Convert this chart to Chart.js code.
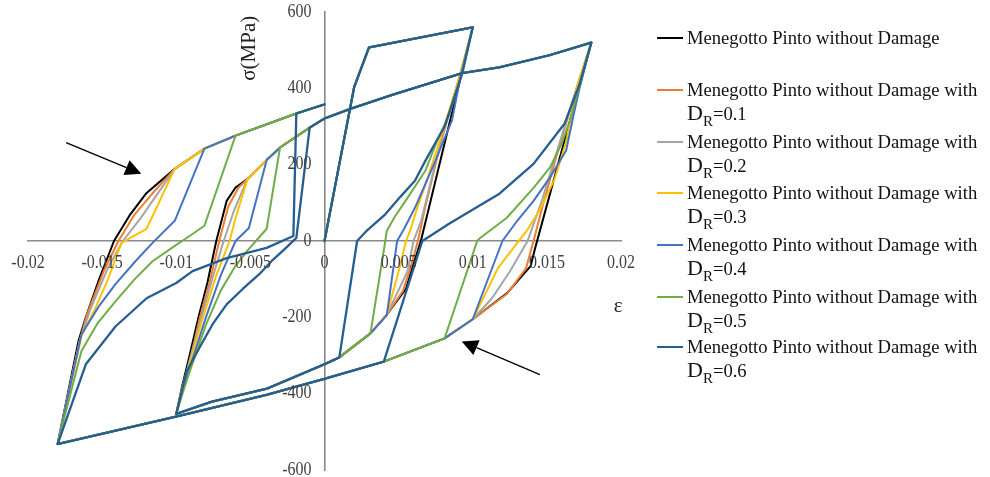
<!DOCTYPE html>
<html><head><meta charset="utf-8">
<script src="https://cdn.jsdelivr.net/npm/chart.js@4.4.0/dist/chart.umd.min.js"></script>
<style>
html,body{margin:0;padding:0;background:#fff;}
#wrap{position:relative;width:990px;height:477px;overflow:hidden;background:#fff;}
canvas{position:absolute;left:0;top:0;}
.lg{position:absolute;font-family:"Liberation Serif","Times New Roman",serif;font-size:18.6px;color:#111;line-height:23px;white-space:nowrap;}
.sw{position:absolute;height:2px;width:26px;}
.dr{font-size:22px;}
.sub{font-size:15px;position:relative;top:6px;}
</style></head><body>
<div id="wrap"><canvas id="c" width="990" height="477"></canvas><div id="legend"></div></div>
<script>
// ---- data: [strain, stress (MPa)] ----
const xTickValues = [-0.02,-0.015,-0.01,-0.005,0,0.005,0.01,0.015,0.02];
const xTickLabels = ['-0.02','-0.015','-0.01','-0.005','0','0.005','0.01','0.015','0.02'];
const yTickValues = [-600,-400,-200,0,200,400,600];
const yTickLabels = ['-600','-400','-200','0','200','400','600'];

const seriesNames = ['Menegotto Pinto without Damage',
  'Menegotto Pinto without Damage with','Menegotto Pinto without Damage with',
  'Menegotto Pinto without Damage with','Menegotto Pinto without Damage with',
  'Menegotto Pinto without Damage with','Menegotto Pinto without Damage with'];
const drValues = [null,'0.1','0.2','0.3','0.4','0.5','0.6'];
const seriesColors = ['#000000','#ED7D31','#A5A5A5','#FFC000','#4472C4','#70AD47','#255E91'];

const mpNoDamage = [[0,0],[0.002,403],[0.003,507],[0.01,560],
 [0.0065,0],[0.006,-60],[0.0055,-125],[0.0042,-193],[0.0031,-242],[0.001,-305],[0,-323],[-0.0039,-387],[-0.0076,-421],[-0.01,-453],
 [-0.0096,-380],[-0.0091,-300],[-0.0085,-200],[-0.0079,-110],[-0.0073,0],[-0.0066,105],[-0.006,140],[-0.0052,162],[-0.0039,212],[-0.003,245],[-0.001,297],[0,321],[0.0018,347],[0.0045,382],[0.0093,440],[0.0118,455],[0.0152,487],[0.018,520],
 [0.0142,-20],[0.0139,-66],[0.0123,-137],[0.01,-205],[0.0081,-255],[0.004,-316],[0,-361],[-0.0039,-403],[-0.01,-460],[-0.018,-532],
 [-0.0166,-263],[-0.0161,-200],[-0.0152,-100],[-0.0142,0],[-0.0131,70],[-0.012,126],[-0.0101,189],[-0.0081,242],[-0.006,276],[-0.0019,334],[0,358]];

const mpDR01 = [[0,0],[0.002,403],[0.003,507],[0.01,560],
 [0.0092,445],[0.0078,250],[0.0068,90],[0.0063,0],[0.0058,-70],[0.0053,-130],[0.0042,-193],[0.0031,-242],[0.001,-305],[0,-323],[-0.0039,-387],[-0.0076,-421],[-0.01,-453],
 [-0.0096,-385],[-0.009,-300],[-0.0084,-200],[-0.0077,-100],[-0.0071,0],[-0.0065,90],[-0.0058,140],[-0.0052,162],[-0.0039,212],[-0.003,245],[-0.001,297],[0,321],[0.0018,347],[0.0045,382],[0.0093,440],[0.0118,455],[0.0152,487],[0.018,520],
 [0.017,400],[0.0157,230],[0.0147,90],[0.0141,0],[0.0136,-71],[0.0123,-139],[0.01,-205],[0.0081,-255],[0.004,-316],[0,-361],[-0.0039,-403],[-0.01,-460],[-0.018,-532],
 [-0.0165,-260],[-0.016,-190],[-0.0149,-80],[-0.0139,0],[-0.0128,70],[-0.0116,125],[-0.0101,189],[-0.0081,242],[-0.006,276],[-0.0019,334],[0,358]];

const mpDR02 = [[0,0],[0.002,403],[0.003,507],[0.01,560],
 [0.0092,440],[0.0081,300],[0.0072,160],[0.0065,50],[0.006,0],[0.0056,-80],[0.0042,-193],[0.0031,-242],[0.001,-305],[0,-323],[-0.0039,-387],[-0.0076,-421],[-0.01,-453],
 [-0.0096,-390],[-0.009,-300],[-0.0083,-200],[-0.0075,-90],[-0.0068,0],[-0.0061,80],[-0.0052,162],[-0.0039,212],[-0.003,245],[-0.001,297],[0,321],[0.0018,347],[0.0045,382],[0.0093,440],[0.0118,455],[0.0152,487],[0.018,520],
 [0.017,400],[0.0158,250],[0.0147,110],[0.0137,0],[0.0125,-80],[0.0113,-150],[0.01,-205],[0.0081,-255],[0.004,-316],[0,-361],[-0.0039,-403],[-0.01,-460],[-0.018,-532],
 [-0.0165,-260],[-0.0158,-180],[-0.0146,-70],[-0.0136,0],[-0.0124,60],[-0.0101,189],[-0.0081,242],[-0.006,276],[-0.0019,334],[0,358]];

const mpDR03 = [[0,0],[0.002,403],[0.003,507],[0.01,560],
 [0.0092,440],[0.008,290],[0.007,170],[0.0062,80],[0.0058,30],[0.0055,0],[0.005,-80],[0.0042,-193],[0.0031,-242],[0.001,-305],[0,-323],[-0.0039,-387],[-0.0076,-421],[-0.01,-453],
 [-0.0096,-390],[-0.009,-310],[-0.0082,-200],[-0.0073,-90],[-0.0064,0],[-0.006,60],[-0.0052,162],[-0.0039,212],[-0.003,245],[-0.001,297],[0,321],[0.0018,347],[0.0045,382],[0.0093,440],[0.0118,455],[0.0152,487],[0.018,520],
 [0.017,400],[0.0163,260],[0.0155,160],[0.0145,80],[0.0137,30],[0.013,-5],[0.0117,-71],[0.01,-205],[0.0081,-255],[0.004,-316],[0,-361],[-0.0039,-403],[-0.01,-460],[-0.018,-532],
 [-0.0164,-250],[-0.0155,-180],[-0.0146,-100],[-0.0137,-5],[-0.012,32],[-0.0101,189],[-0.0081,242],[-0.006,276],[-0.0019,334],[0,358]];

const mpDR04 = [[0,0],[0.002,403],[0.003,507],[0.01,560],
 [0.0092,435],[0.0086,316],[0.0074,203],[0.0061,87],[0.0054,34],[0.0049,0],[0.0042,-195],[0.0031,-242],[0.001,-305],[0,-323],[-0.0039,-387],[-0.0076,-421],[-0.01,-453],
 [-0.0096,-395],[-0.0089,-310],[-0.008,-200],[-0.007,-90],[-0.006,0],[-0.0051,34],[-0.0039,212],[-0.003,245],[-0.001,297],[0,321],[0.0018,347],[0.0045,382],[0.0093,440],[0.0118,455],[0.0152,487],[0.018,520],
 [0.0172,400],[0.0168,330],[0.0163,237],[0.0152,166],[0.0141,105],[0.013,53],[0.012,0],[0.01,-205],[0.0081,-255],[0.004,-316],[0,-361],[-0.0039,-403],[-0.01,-460],[-0.018,-532],
 [-0.0164,-245],[-0.0152,-170],[-0.0141,-113],[-0.0128,-55],[-0.0116,-5],[-0.0101,53],[-0.0081,242],[-0.006,276],[-0.0019,334],[0,358]];

const mpDR05 = [[0,0],[0.002,403],[0.003,507],[0.01,560],
 [0.0092,430],[0.0084,330],[0.0076,263],[0.0068,184],[0.0056,113],[0.0047,61],[0.0042,26],[0.0041,0],[0.0031,-242],[0.001,-305],[0,-323],[-0.0039,-387],[-0.0076,-421],[-0.01,-453],
 [-0.0095,-390],[-0.0089,-320],[-0.008,-220],[-0.007,-130],[-0.006,-65],[-0.0052,-25],[-0.0039,32],[-0.003,245],[-0.001,297],[0,321],[0.0018,347],[0.0045,382],[0.0093,440],[0.0118,455],[0.0152,487],[0.018,520],
 [0.0172,410],[0.0166,320],[0.016,255],[0.0152,192],[0.0141,139],[0.0123,61],[0.0105,8],[0.0103,0],[0.0081,-255],[0.004,-316],[0,-361],[-0.0039,-403],[-0.01,-460],[-0.018,-532],
 [-0.0164,-289],[-0.0153,-215],[-0.0141,-158],[-0.0128,-100],[-0.0116,-53],[-0.01,-10],[-0.0091,13],[-0.0081,40],[-0.006,276],[-0.0019,334],[0,358]];

const mpDR06 = [[0,0],[0.002,403],[0.003,507],[0.01,560],
 [0.0093,440],[0.0081,300],[0.0068,210],[0.0061,158],[0.0051,115],[0.0041,70],[0.0028,25],[0.0022,0],[0.001,-305],[0,-323],[-0.0039,-387],[-0.0076,-421],[-0.01,-453],
 [-0.0093,-342],[-0.0084,-277],[-0.0075,-215],[-0.0066,-166],[-0.0055,-125],[-0.0044,-87],[-0.0035,-50],[-0.0026,-18],[-0.0019,8],[-0.001,297],[0,321],[0.0018,347],[0.0045,382],[0.0093,440],[0.0118,455],[0.0152,487],[0.018,520],
 [0.0172,410],[0.0162,308],[0.0141,202],[0.0118,124],[0.0084,45],[0.0066,0],[0.004,-316],[0,-361],[-0.0039,-403],[-0.01,-460],[-0.018,-532],
 [-0.0161,-323],[-0.0141,-224],[-0.012,-150],[-0.01,-110],[-0.0089,-79],[-0.0066,-45],[-0.0039,-18],[-0.0021,13],[-0.0019,334],[0,358]];

const seriesData = [mpNoDamage, mpDR01, mpDR02, mpDR03, mpDR04, mpDR05, mpDR06];

// ---- chart ----
const serif = '"Liberation Serif","Times New Roman",serif';
const datasets = seriesData.map((pts, i) => ({
  label: seriesNames[i] + (drValues[i] ? ' DR=' + drValues[i] : ''),
  data: pts.map(p => ({x: p[0], y: p[1]})),
  borderColor: seriesColors[i],
  backgroundColor: seriesColors[i],
  borderWidth: i === 6 ? 2.3 : 2,
  pointRadius: 0,
  showLine: true,
  fill: false,
  tension: 0,
  borderJoinStyle: 'round',
  borderCapStyle: 'round',
  order: 6 - i
}));

const notes = {
  id: 'notes',
  afterDraw(chart) {
    const ctx = chart.ctx, xs = chart.scales.x, ys = chart.scales.y;
    ctx.save();
    // tick labels (placed through the scales)
    const tick = (txt, x, y, align) => {
      ctx.save();
      ctx.translate(x, y);
      ctx.scale(1, 1.12);
      ctx.textAlign = align; ctx.textBaseline = 'middle';
      ctx.fillText(txt, 0, 0);
      ctx.restore();
    };
    ctx.fillStyle = '#404040';
    ctx.font = '16px ' + serif;
    xTickValues.forEach((v, i) => tick(xTickLabels[i], xs.getPixelForValue(v), ys.getPixelForValue(0) + 22, 'center'));
    yTickValues.forEach((v, i) => tick(yTickLabels[i], xs.getPixelForValue(0) - 13, ys.getPixelForValue(v), 'right'));
    // axis titles
    ctx.fillStyle = '#222';
    ctx.font = '21px ' + serif;
    ctx.textAlign = 'center'; ctx.textBaseline = 'middle';
    ctx.save();
    ctx.translate(xs.getPixelForValue(-0.00507), ys.getPixelForValue(505));
    ctx.rotate(-Math.PI / 2);
    ctx.fillText('σ(MPa)', 0, 0);
    ctx.restore();
    ctx.fillText('ε', xs.getPixelForValue(0.0198), ys.getPixelForValue(-172));
    // arrows
    const arrow = (x1, y1, x2, y2) => {
      const a = Math.atan2(y2 - y1, x2 - x1), L = 16, W = 8;
      const bx = x2 - L * Math.cos(a), by = y2 - L * Math.sin(a);
      ctx.strokeStyle = '#000'; ctx.lineWidth = 1.3;
      ctx.beginPath(); ctx.moveTo(x1, y1); ctx.lineTo(bx, by); ctx.stroke();
      ctx.fillStyle = '#000';
      ctx.beginPath(); ctx.moveTo(x2, y2);
      ctx.lineTo(bx + W * Math.sin(a), by - W * Math.cos(a));
      ctx.lineTo(bx - W * Math.sin(a), by + W * Math.cos(a));
      ctx.closePath(); ctx.fill();
    };
    arrow(xs.getPixelForValue(-0.01743), ys.getPixelForValue(258), xs.getPixelForValue(-0.01236), ys.getPixelForValue(176));
    arrow(xs.getPixelForValue(0.01453), ys.getPixelForValue(-350), xs.getPixelForValue(0.00926), ys.getPixelForValue(-263));
    ctx.restore();
  }
};

new Chart(document.getElementById('c'), {
  type: 'scatter',
  data: { datasets },
  options: {
    responsive: false,
    animation: false,
    layout: { padding: { left: 28, right: 369, top: 12, bottom: 7 } },
    plugins: { legend: { display: false }, tooltip: { enabled: false } },
    scales: {
      x: {
        type: 'linear', min: -0.02, max: 0.02, position: { y: 0 },
        grid: { display: false },
        border: { display: true, color: '#8a8a8a', width: 1.6 },
        afterBuildTicks: s => { s.ticks = xTickValues.map(v => ({ value: v })); },
        ticks: { display: false }
      },
      y: {
        type: 'linear', min: -600, max: 600, position: { x: 0 },
        grid: { display: false },
        border: { display: true, color: '#8a8a8a', width: 1.6 },
        afterBuildTicks: s => { s.ticks = yTickValues.map(v => ({ value: v })); },
        ticks: { display: false }
      }
    }
  },
  plugins: [notes]
});

// ---- legend (HTML text) ----
const legend = document.getElementById('legend');
const legendTop = [38, 90, 142, 193, 245, 297, 347];
seriesNames.forEach((name, i) => {
  const sw = document.createElement('div');
  sw.className = 'sw';
  sw.style.left = '657px'; sw.style.top = (legendTop[i] - 1) + 'px';
  sw.style.background = seriesColors[i];
  legend.appendChild(sw);
  const t = document.createElement('div');
  t.className = 'lg';
  t.style.left = '687px'; t.style.top = (legendTop[i] - 12) + 'px';
  t.innerHTML = name + (drValues[i] ? '<br><span class="dr">D</span><span class="sub">R</span>=' + drValues[i] : '');
  legend.appendChild(t);
});
</script>
</body></html>
